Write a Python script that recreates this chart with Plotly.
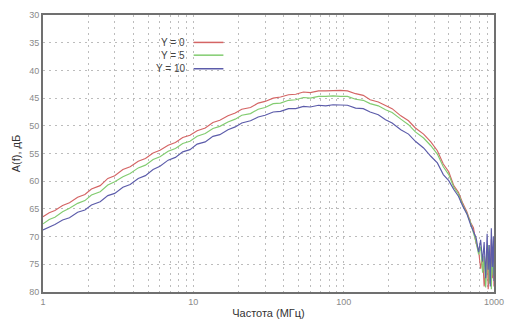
import plotly.graph_objects as go

freq = [1, 1.1, 1.2, 1.35, 1.5, 1.7, 1.9, 2.1, 2.4, 2.7,
        3, 3.4, 3.8, 4.3, 4.8, 5.4, 6, 6.8, 7.6, 8.5,
        9.5, 10.6, 12, 13.5, 15, 17, 19, 21, 24, 27,
        30, 34, 38, 43, 48, 54, 60, 68, 76, 85,
        95, 106, 120, 135, 150, 170, 190, 210, 240, 270,
        300, 340, 380, 420, 460, 500, 540, 580, 620, 660,
        700, 730, 760, 790, 815, 840, 860, 880, 900, 915,
        930, 945, 960, 975, 990, 1000]

a_y0 = [66.4, 65.7, 65.3, 64.4, 63.9, 62.9, 62.4, 61.4, 60.8, 59.5,
        59.0, 57.9, 57.4, 56.4, 55.9, 54.9, 54.4, 53.5, 53.0, 52.1,
        51.7, 50.9, 50.4, 49.4, 49.0, 48.2, 47.7, 47.0, 46.7, 45.9,
        45.6, 45.0, 44.8, 44.4, 44.3, 43.9, 44.0, 43.7, 43.7, 43.6,
        43.6, 43.7, 44.2, 44.5, 45.3, 45.7, 46.4, 46.9, 48.2, 49.1,
        50.4, 51.5, 52.9, 54.5, 56.9, 58.3, 60.8, 62.0, 64.0, 65.5,
        67.5, 68.4, 71.2, 72.5, 75.8, 73.4, 79.0, 76.2, 72.0, 79.5,
        74.8, 78.0, 70.5, 77.5, 73.0, 79.0]

a_y5 = [67.7, 66.9, 66.5, 65.5, 64.9, 64.0, 63.5, 62.5, 61.9, 60.7,
        60.1, 59.2, 58.6, 57.6, 57.1, 56.1, 55.6, 54.6, 54.1, 53.2,
        52.8, 51.9, 51.4, 50.5, 50.1, 49.3, 48.8, 48.1, 47.8, 47.0,
        46.7, 46.0, 45.9, 45.4, 45.3, 44.9, 45.0, 44.7, 44.7, 44.6,
        44.7, 44.7, 45.2, 45.4, 46.0, 46.4, 47.1, 47.6, 48.8, 49.8,
        51.1, 52.2, 53.6, 55.1, 57.4, 58.8, 61.1, 62.3, 64.3, 65.8,
        67.6, 69.3, 71.0, 73.2, 71.8, 76.5, 73.5, 79.2, 75.0, 71.5,
        78.5, 74.0, 79.5, 72.5, 77.0, 74.5]

a_y10 = [68.8, 68.3, 67.8, 67.0, 66.6, 65.6, 65.2, 64.3, 63.7, 62.6,
         62.2, 61.1, 60.6, 59.5, 59.0, 57.9, 57.3, 56.2, 55.7, 54.7,
         54.3, 53.3, 52.9, 51.9, 51.6, 50.7, 50.2, 49.5, 49.1, 48.4,
         48.1, 47.5, 47.4, 46.9, 46.9, 46.5, 46.6, 46.3, 46.4, 46.2,
         46.3, 46.3, 46.8, 46.9, 47.5, 48.0, 48.9, 49.5, 50.7, 51.5,
         52.8, 54.0, 55.5, 56.7, 58.8, 59.9, 61.5, 62.7, 64.5, 65.9,
         67.9, 69.0, 70.2, 72.8, 70.6, 74.5, 71.0, 77.5, 69.5, 76.0,
         71.5, 79.0, 68.5, 75.5, 70.0, 78.0]

series_names = ["Y = 0", "Y = 5", "Y = 10"]
series_colors = ["#d46464", "#82cc70", "#5c5caa"]
series_values = [a_y0, a_y5, a_y10]

y_ticks = [30, 35, 40, 45, 50, 55, 60, 65, 70, 75, 80]
x_decades = [1, 10, 100, 1000]
x_tick_labels = ["1", "10", "100", "1000"]

x_grid = []
x_text = []
for i, d in enumerate(x_decades[:-1]):
    for m in range(1, 10):
        x_grid.append(d * m)
        x_text.append(x_tick_labels[i] if m == 1 else "")
x_grid.append(x_decades[-1])
x_text.append(x_tick_labels[-1])

fig = go.Figure()
for name, col, vals in zip(series_names, series_colors, series_values):
    fig.add_trace(go.Scatter(x=freq, y=vals, mode="lines", name=name,
                             line=dict(color=col, width=1.15), showlegend=False))

# legend (text left of sample line, as in the reference)
leg_y = [0.901, 0.855, 0.806]
for name, col, yy in zip(series_names, series_colors, leg_y):
    fig.add_annotation(xref="paper", yref="paper", x=0.319, y=yy, text=name,
                       showarrow=False, xanchor="right", yanchor="middle",
                       font=dict(family="Liberation Sans, Arial", size=10, color="#444444"))
    fig.add_shape(type="line", xref="paper", yref="paper", x0=0.334, x1=0.40,
                  y0=yy, y1=yy, line=dict(color=col, width=1.5))

grid_color = "#bcbcbc"
fig.update_xaxes(type="log", range=[0, 3], tickvals=x_grid, ticktext=x_text,
                 showgrid=True, gridcolor=grid_color, griddash="2px,4px", gridwidth=1,
                 showline=True, linecolor="#707070", linewidth=2, mirror=True,
                 ticks="", zeroline=False,
                 tickfont=dict(family="Liberation Sans, Arial", size=9, color="#8a8a8a"),
                 title=dict(text="Частота (МГц)", standoff=4,
                            font=dict(family="Liberation Sans, Arial", size=11, color="#333333")))
fig.update_yaxes(range=[80, 30], tickvals=y_ticks,
                 showgrid=True, gridcolor=grid_color, griddash="2px,4px", gridwidth=1,
                 showline=True, linecolor="#707070", linewidth=2, mirror=True,
                 ticks="", zeroline=False,
                 tickfont=dict(family="Liberation Sans, Arial", size=9, color="#8a8a8a"),
                 title=dict(text="A(f), дБ", standoff=6,
                            font=dict(family="Liberation Sans, Arial", size=11, color="#333333")))

fig.update_layout(width=514, height=328, margin=dict(l=43, r=16, t=10, b=35),
                  paper_bgcolor="white", plot_bgcolor="white")

fig.write_html("out.html")
